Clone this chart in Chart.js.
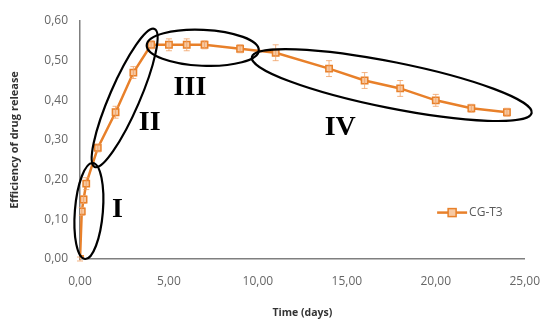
<!DOCTYPE html>
<html><head><meta charset="utf-8">
<script src="https://cdn.jsdelivr.net/npm/chart.js@4.4.0/dist/chart.umd.min.js"></script>
<style>html,body{margin:0;padding:0;background:#fff}#wrap{width:551px;height:323px}</style>
</head><body><div id="wrap"><canvas id="c" width="551" height="323"></canvas></div>
<script>
const seriesLabel = 'CG-T3';
const timeDays = [0, 0.1, 0.2, 0.35, 1, 2, 3, 4, 5, 6, 7, 9, 11, 14, 16, 18, 20, 22, 24];
const efficiency = [0, 0.12, 0.15, 0.19, 0.28, 0.37, 0.47, 0.54, 0.54, 0.54, 0.54, 0.53, 0.52, 0.48, 0.45, 0.43, 0.40, 0.38, 0.37];
const errors = [0.005, 0.01, 0.01, 0.015, 0.01, 0.015, 0.015, 0.01, 0.015, 0.015, 0.01, 0.01, 0.02, 0.02, 0.02, 0.02, 0.015, 0.01, 0.01];
const xTicks = [0, 5, 10, 15, 20, 25];
const yTicks = [0, 0.1, 0.2, 0.3, 0.4, 0.5, 0.6];
const phaseNames = ['I', 'II', 'III', 'IV'];
// phase annotations: ends of major axis in data units, label anchor in data units
const phaseEllipses = [
  {a:[0.28,0.0], b:[0.72,0.242], minor:14, label:[2.1,0.124]},
  {a:[0.83,0.232], b:[4.19,0.58], minor:15, label:[3.92,0.343]},
  {a:[3.75,0.539], b:[10.05,0.526], minor:18, label:[6.18,0.431]},
  {a:[9.66,0.509], b:[25.39,0.368], minor:23, label:[14.63,0.33]}
];
const fmt = v => v.toFixed(2).replace('.', ',');
const orange = '#E8802A';
const FONT = '"Open Sans", Lato, sans-serif';

const decor = {
  id: 'decor',
  afterDatasetsDraw(chart) {
    const {ctx, scales:{x, y}} = chart;
    ctx.save();
    // error bars
    ctx.strokeStyle = 'rgba(240,160,100,0.8)';
    ctx.lineWidth = 1;
    timeDays.forEach((t, i) => {
      const px = x.getPixelForValue(t);
      const p1 = y.getPixelForValue(efficiency[i] + errors[i]);
      const p2 = y.getPixelForValue(efficiency[i] - errors[i]);
      ctx.beginPath();
      ctx.moveTo(px, p1); ctx.lineTo(px, p2);
      ctx.moveTo(px - 3, p1); ctx.lineTo(px + 3, p1);
      ctx.moveTo(px - 3, p2); ctx.lineTo(px + 3, p2);
      ctx.stroke();
    });
    // ellipses
    ctx.strokeStyle = '#000';
    ctx.lineWidth = 2.2;
    phaseEllipses.forEach((e, i) => {
      const ax = x.getPixelForValue(e.a[0]), ay = y.getPixelForValue(e.a[1]);
      const bx = x.getPixelForValue(e.b[0]), by = y.getPixelForValue(e.b[1]);
      const cx = (ax + bx) / 2, cy = (ay + by) / 2;
      const major = Math.hypot(bx - ax, by - ay) / 2;
      const ang = Math.atan2(by - ay, bx - ax);
      ctx.beginPath();
      ctx.ellipse(cx, cy, major, e.minor, ang, 0, Math.PI * 2);
      ctx.stroke();
      ctx.fillStyle = '#000';
      ctx.font = 'bold 28px "Liberation Serif", "Times New Roman", serif';
      ctx.textAlign = 'center';
      ctx.textBaseline = 'middle';
      ctx.fillText(phaseNames[i], x.getPixelForValue(e.label[0]), y.getPixelForValue(e.label[1]));
    });
    // legend
    const lx = x.getPixelForValue(20.3), ly = y.getPixelForValue(0.117);
    ctx.strokeStyle = orange; ctx.lineWidth = 2.5;
    ctx.beginPath(); ctx.moveTo(lx - 4, ly); ctx.lineTo(lx + 26, ly); ctx.stroke();
    ctx.fillStyle = '#f7c9a2'; ctx.lineWidth = 1.5;
    ctx.fillRect(lx + 7, ly - 4, 8, 8); ctx.strokeRect(lx + 7, ly - 4, 8, 8);
    ctx.fillStyle = '#595959';
    ctx.font = '12px ' + FONT;
    ctx.textAlign = 'left'; ctx.textBaseline = 'middle';
    ctx.fillText(seriesLabel, lx + 28, ly);
    ctx.restore();
  }
};

new Chart(document.getElementById('c'), {
  type: 'line',
  data: {
    datasets: [{
      label: seriesLabel,
      data: timeDays.map((t, i) => ({x: t, y: efficiency[i]})),
      borderColor: orange,
      borderWidth: 2.5,
      backgroundColor: '#f7c9a2',
      pointStyle: 'rect',
      pointRadius: 4.5,
      pointBorderWidth: 1.5,
      pointBorderColor: orange,
      tension: 0
    }]
  },
  options: {
    responsive: false,
    animation: false,
    layout: {padding: {top: 21, right: 18, left: 0, bottom: 0}},
    plugins: {legend: {display: false}, tooltip: {enabled: false}},
    scales: {
      x: {
        type: 'linear', min: 0, max: 25,
        afterBuildTicks: s => { s.ticks = xTicks.map(v => ({value: v})); },
        afterFit: s => { s.height = 64; },
        grid: {display: false, drawTicks: true, tickLength: 4},
        border: {color: '#7f7f7f', width: 1.5},
        ticks: {color: '#666666', font: {family: FONT, size: 12}, padding: 11, callback: v => fmt(v), maxRotation: 0},
        title: {display: true, text: 'Time (days)', color: '#333333', font: {family: FONT, size: 10.5, weight: 'bold'}, padding: {top: 11}}
      },
      y: {
        min: 0, max: 0.6,
        afterBuildTicks: s => { s.ticks = yTicks.map(v => ({value: v})); },
        afterFit: s => { s.width = 80; },
        grid: {display: false, drawTicks: true, tickLength: 4},
        border: {color: '#7f7f7f', width: 1.5},
        ticks: {color: '#666666', font: {family: FONT, size: 12}, padding: 8, callback: v => fmt(v)},
        title: {display: true, text: 'Efficiency of drug release', color: '#333333', font: {family: FONT, size: 11, weight: 'bold'}, padding: {top: 8, bottom: 2}}
      }
    }
  },
  plugins: [decor]
});
</script></body></html>
